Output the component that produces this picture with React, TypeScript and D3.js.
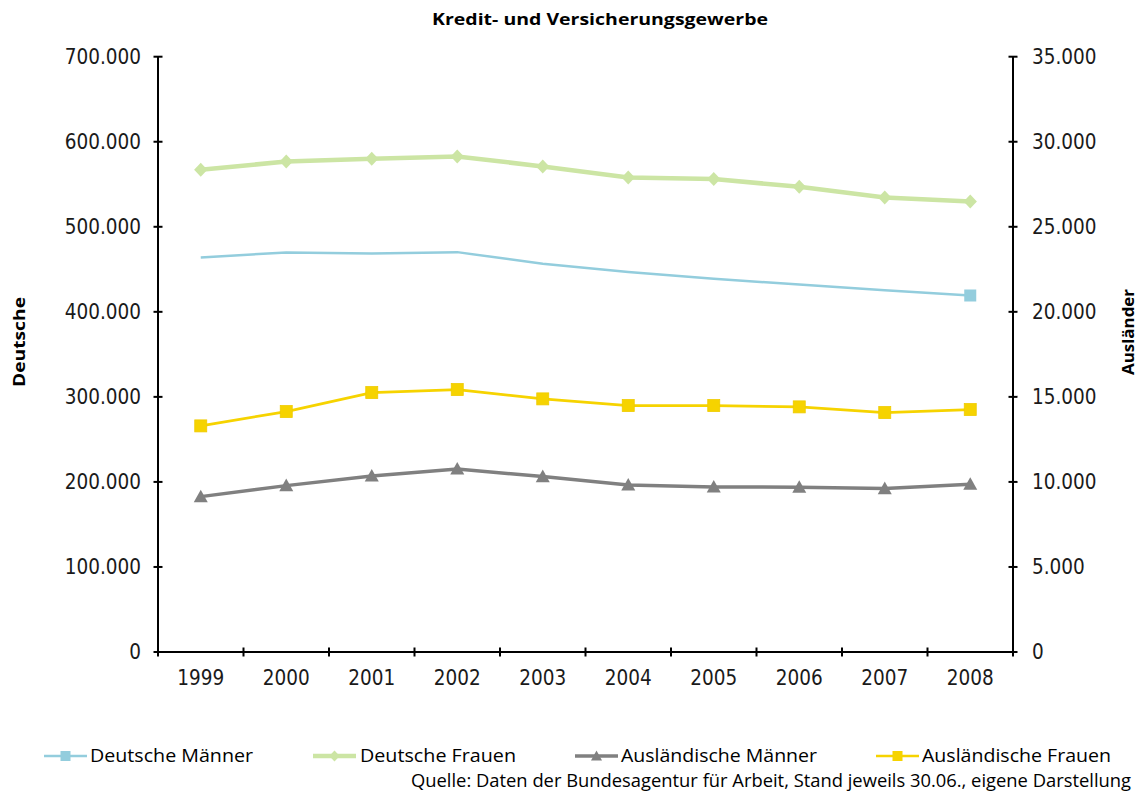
import React from "react";
import * as d3 from "d3";

const years = ["1999", "2000", "2001", "2002", "2003", "2004", "2005", "2006", "2007", "2008"];
const deutscheMaenner = [463900, 469800, 468600, 470200, 456500, 446700, 438800, 432100, 425500, 419200];
const deutscheFrauen = [567000, 576800, 580000, 582700, 571000, 558000, 556100, 547000, 534500, 529800];
const auslMaenner = [9135, 9782, 10353, 10765, 10312, 9824, 9706, 9688, 9608, 9863];
const auslFrauen = [13294, 14137, 15253, 15431, 14882, 14490, 14490, 14412, 14078, 14255];
const leftTicks = [0, 100000, 200000, 300000, 400000, 500000, 600000, 700000];
const rightTicks = [0, 5000, 10000, 15000, 20000, 25000, 30000, 35000];

const W = 1142, H = 803;
const X0 = 158, X1 = 1013, Y0 = 652, Y1 = 56.7;

const locale = d3.formatLocale({ decimal: ",", thousands: ".", grouping: [3], currency: ["", "€"] });
const fmt = locale.format(",");

const tickFont = "'DejaVu Sans Condensed', 'DejaVu Sans', sans-serif";
const textFont = "'Open Sans', 'Noto Sans', sans-serif";

export default function App() {
  const x = d3.scaleBand<string>().domain(years).range([X0, X1]);
  const cx = (y: string) => (x(y) as number) + x.bandwidth() / 2;
  const yL = d3.scaleLinear().domain([0, 700000]).range([Y0, Y1]);
  const yR = d3.scaleLinear().domain([0, 35000]).range([Y0, Y1]);

  const lineL = d3.line<number>().x((_, i) => cx(years[i])).y((v) => yL(v));
  const lineR = d3.line<number>().x((_, i) => cx(years[i])).y((v) => yR(v));

  const diamond = (px: number, py: number, r = 7) =>
    `M${px},${py - r}L${px + r * 0.95},${py}L${px},${py + r}L${px - r * 0.95},${py}Z`;
  const triangle = (px: number, py: number, s = 7) =>
    `M${px},${py - s}L${px + s},${py + s * 0.8}L${px - s},${py + s * 0.8}Z`;

  const blue = "#93CDDD", green = "#CCE5A4", gray = "#808080", yellow = "#F6D300";

  const bounds = [...years.map((y) => x(y) as number), X1];

  const legend = [
    { label: "Deutsche Männer", color: blue, lw: 2.5, marker: "square", lx: 44, tx: 90, tl: 163 },
    { label: "Deutsche Frauen", color: green, lw: 4.5, marker: "diamond", lx: 313, tx: 360, tl: 156 },
    { label: "Ausländische Männer", color: gray, lw: 3.5, marker: "triangle", lx: 575, tx: 621, tl: 196 },
    { label: "Ausländische Frauen", color: yellow, lw: 2.7, marker: "square", lx: 876, tx: 922, tl: 189 },
  ];
  const LY = 756;

  return (
    <svg width={W} height={H} style={{ display: "block", position: "absolute", left: 0, top: 0, background: "#fff" }}>
      <rect x={0} y={0} width={W} height={H} fill="#fff" />
      <text x={600} y={25} textAnchor="middle" fontFamily={textFont} fontWeight="bold" fontSize={16.5}
        textLength={336} lengthAdjust="spacingAndGlyphs">Kredit- und Versicherungsgewerbe</text>

      {/* lines */}
      <path d={lineL(deutscheMaenner) as string} fill="none" stroke={blue} strokeWidth={2.5} />
      <path d={lineL(deutscheFrauen) as string} fill="none" stroke={green} strokeWidth={4.5} />
      <path d={lineR(auslMaenner) as string} fill="none" stroke={gray} strokeWidth={3.5} />
      <path d={lineR(auslFrauen) as string} fill="none" stroke={yellow} strokeWidth={2.7} />

      {/* markers */}
      {deutscheFrauen.map((v, i) => (
        <path key={"df" + i} d={diamond(cx(years[i]), yL(v))} fill={green} />
      ))}
      {auslMaenner.map((v, i) => (
        <path key={"am" + i} d={triangle(cx(years[i]), yR(v))} fill={gray} />
      ))}
      {auslFrauen.map((v, i) => (
        <rect key={"af" + i} x={cx(years[i]) - 6} y={yR(v) - 6} width={12} height={12} fill={yellow} stroke="#EFCB00" strokeWidth={0.8} />
      ))}
      <rect x={cx(years[9]) - 6} y={yL(deutscheMaenner[9]) - 6} width={12} height={12} fill={blue} />

      {/* axes */}
      <line x1={X0} x2={X0} y1={Y1} y2={Y0} stroke="#000" strokeWidth={2} />
      <line x1={X1} x2={X1} y1={Y1} y2={Y0} stroke="#000" strokeWidth={2} />
      <line x1={X0} x2={X1} y1={Y0} y2={Y0} stroke="#000" strokeWidth={2} />
      {leftTicks.map((t) => (
        <g key={"lt" + t}>
          <line x1={X0 - 4.5} x2={X0 + 4.5} y1={yL(t)} y2={yL(t)} stroke="#000" strokeWidth={2} />
          <text x={141} y={yL(t)} dy="0.36em" textAnchor="end" fontFamily={tickFont} fontSize={20.5} fill="#1a1a1a">{fmt(t)}</text>
        </g>
      ))}
      {rightTicks.map((t) => (
        <g key={"rt" + t}>
          <line x1={X1 - 4.5} x2={X1 + 4.5} y1={yR(t)} y2={yR(t)} stroke="#000" strokeWidth={2} />
          <text x={1032} y={yR(t)} dy="0.36em" textAnchor="start" fontFamily={tickFont} fontSize={20.5} fill="#1a1a1a">{fmt(t)}</text>
        </g>
      ))}
      {bounds.map((b, i) => (
        <line key={"xt" + i} x1={b} x2={b} y1={Y0 - 4.5} y2={Y0 + 4.5} stroke="#000" strokeWidth={2} />
      ))}
      {years.map((y) => (
        <text key={"yl" + y} x={cx(y)} y={685} textAnchor="middle" fontFamily={tickFont} fontSize={20.5} fill="#1a1a1a">{y}</text>
      ))}

      {/* axis titles */}
      <text transform="translate(25,342) rotate(-90)" textAnchor="middle" fontFamily={textFont} fontWeight="bold" fontSize={16.5}
        textLength={90} lengthAdjust="spacingAndGlyphs">Deutsche</text>
      <text transform="translate(1134,332) rotate(-90)" textAnchor="middle" fontFamily={textFont} fontWeight="bold" fontSize={16.5}
        textLength={86} lengthAdjust="spacingAndGlyphs">Ausländer</text>

      {/* legend */}
      {legend.map((l) => {
        const mx = l.lx + 21.5;
        return (
          <g key={l.label}>
            <line x1={l.lx} x2={l.lx + 43} y1={LY} y2={LY} stroke={l.color} strokeWidth={l.lw} />
            {l.marker === "square" && <rect x={mx - 5} y={LY - 5} width={10} height={10} fill={l.color} />}
            {l.marker === "diamond" && <path d={diamond(mx, LY, 5.5)} fill={l.color} />}
            {l.marker === "triangle" && <path d={triangle(mx, LY, 5.5)} fill={l.color} />}
            <text x={l.tx} y={LY + 6} fontFamily={textFont} fontSize={18} fill="#000"
              textLength={l.tl} lengthAdjust="spacingAndGlyphs">{l.label}</text>
          </g>
        );
      })}
      <text x={1131} y={787} textAnchor="end" fontFamily={textFont} fontSize={18} fill="#000"
        textLength={720} lengthAdjust="spacingAndGlyphs">
        Quelle: Daten der Bundesagentur für Arbeit, Stand jeweils 30.06., eigene Darstellung
      </text>
    </svg>
  );
}
